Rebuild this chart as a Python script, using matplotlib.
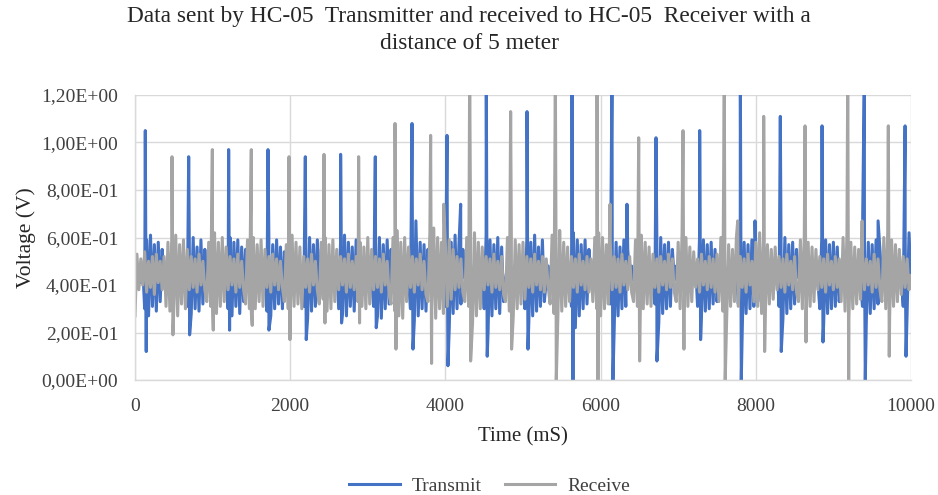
import numpy as np
import matplotlib
matplotlib.use("Agg")
import matplotlib.pyplot as plt

# Data (time in mS, voltage in V)
step_ms = 25
base_time = np.arange(0, 10001, step_ms)

# background noise of the Transmit line, one value every 25 mS (20 values = 500 mS per row)
transmit_base = [
    0.45, 0.42, 0.48, 0.41, 0.47, 0.30, 0.59, 0.27, 0.61, 0.31, 0.57, 0.29, 0.58, 0.33, 0.55, 0.43, 0.48, 0.42, 0.47, 0.41,
    0.49, 0.42, 0.48, 0.41, 0.47, 0.43, 0.48, 0.31, 0.58, 0.28, 0.60, 0.30, 0.56, 0.29, 0.59, 0.32, 0.55, 0.42, 0.48, 0.41,
    0.47, 0.43, 0.49, 0.41, 0.48, 0.42, 0.47, 0.43, 0.30, 0.60, 0.27, 0.58, 0.31, 0.59, 0.28, 0.56, 0.33, 0.55, 0.42, 0.48,
    0.41, 0.47, 0.43, 0.48, 0.42, 0.49, 0.41, 0.47, 0.29, 0.61, 0.27, 0.57, 0.30, 0.59, 0.32, 0.56, 0.30, 0.54, 0.43, 0.48,
    0.42, 0.47, 0.41, 0.49, 0.43, 0.48, 0.42, 0.31, 0.58, 0.26, 0.60, 0.29, 0.57, 0.31, 0.59, 0.33, 0.55, 0.42, 0.48, 0.41,
    0.47, 0.43, 0.48, 0.41, 0.49, 0.30, 0.59, 0.28, 0.61, 0.27, 0.58, 0.31, 0.56, 0.29, 0.59, 0.33, 0.42, 0.48, 0.43, 0.47,
    0.41, 0.48, 0.42, 0.31, 0.58, 0.27, 0.60, 0.26, 0.57, 0.30, 0.59, 0.32, 0.55, 0.43, 0.48, 0.41, 0.47, 0.42, 0.49, 0.43,
    0.47, 0.42, 0.30, 0.62, 0.25, 0.60, 0.27, 0.58, 0.30, 0.57, 0.29, 0.55, 0.42, 0.48, 0.41, 0.47, 0.43, 0.49, 0.42, 0.48,
    0.31, 0.60, 0.22, 0.58, 0.28, 0.61, 0.30, 0.57, 0.32, 0.55, 0.43, 0.48, 0.41, 0.47, 0.42, 0.49, 0.43, 0.48, 0.41, 0.47,
    0.30, 0.61, 0.20, 0.59, 0.27, 0.57, 0.30, 0.60, 0.28, 0.56, 0.33, 0.42, 0.48, 0.41, 0.47, 0.43, 0.49, 0.42, 0.48, 0.43,
    0.47, 0.30, 0.60, 0.24, 0.58, 0.27, 0.61, 0.29, 0.56, 0.31, 0.59, 0.33, 0.42, 0.48, 0.41, 0.47, 0.43, 0.49, 0.42, 0.48,
    0.41, 0.47, 0.43, 0.48, 0.42, 0.31, 0.62, 0.22, 0.59, 0.27, 0.57, 0.30, 0.59, 0.32, 0.55, 0.42, 0.48, 0.41, 0.47, 0.43,
    0.49, 0.42, 0.48, 0.41, 0.47, 0.32, 0.60, 0.21, 0.58, 0.27, 0.56, 0.30, 0.59, 0.31, 0.55, 0.43, 0.48, 0.42, 0.47, 0.41,
    0.48, 0.43, 0.47, 0.41, 0.49, 0.42, 0.48, 0.43, 0.32, 0.59, 0.24, 0.60, 0.28, 0.57, 0.30, 0.58, 0.31, 0.55, 0.42, 0.48,
    0.41, 0.47, 0.43, 0.48, 0.42, 0.49, 0.41, 0.47, 0.43, 0.48, 0.31, 0.60, 0.27, 0.59, 0.29, 0.57, 0.30, 0.58, 0.32, 0.55,
    0.33, 0.43, 0.48, 0.41, 0.47, 0.42, 0.49, 0.43, 0.48, 0.41, 0.47, 0.32, 0.62, 0.20, 0.58, 0.28, 0.57, 0.30, 0.59, 0.31,
    0.56, 0.33, 0.42, 0.48, 0.41, 0.47, 0.43, 0.49, 0.42, 0.48, 0.41, 0.47, 0.31, 0.59, 0.26, 0.60, 0.28, 0.57, 0.30, 0.58,
    0.32, 0.55, 0.43, 0.48, 0.41, 0.47, 0.42, 0.49, 0.43, 0.48, 0.41, 0.47, 0.42, 0.30, 0.60, 0.24, 0.59, 0.28, 0.57, 0.30,
    0.58, 0.31, 0.56, 0.33, 0.43, 0.48, 0.41, 0.47, 0.42, 0.49, 0.43, 0.48, 0.41, 0.47, 0.42, 0.31, 0.60, 0.26, 0.58, 0.28,
    0.57, 0.30, 0.59, 0.32, 0.55, 0.42, 0.48, 0.41, 0.47, 0.43, 0.49, 0.42, 0.48, 0.41, 0.47, 0.43, 0.31, 0.60, 0.28, 0.62,
    0.40,
]

# background noise of the Receive line, one value every 25 mS (20 values = 500 mS per row)
receive_base = [
    0.27, 0.53, 0.38, 0.51, 0.40, 0.54, 0.37, 0.50, 0.39, 0.52, 0.36, 0.53, 0.41, 0.50, 0.38, 0.52, 0.31, 0.58, 0.29, 0.60,
    0.30, 0.61, 0.27, 0.57, 0.32, 0.59, 0.30, 0.55, 0.38, 0.52, 0.39, 0.51, 0.37, 0.53, 0.40, 0.50, 0.38, 0.33, 0.58, 0.31,
    0.29, 0.62, 0.28, 0.58, 0.31, 0.60, 0.33, 0.56, 0.38, 0.52, 0.40, 0.51, 0.37, 0.53, 0.39, 0.50, 0.38, 0.32, 0.59, 0.30,
    0.28, 0.60, 0.30, 0.57, 0.33, 0.59, 0.31, 0.55, 0.39, 0.52, 0.37, 0.53, 0.40, 0.51, 0.38, 0.50, 0.39, 0.33, 0.57, 0.30,
    0.27, 0.61, 0.31, 0.58, 0.32, 0.56, 0.30, 0.52, 0.39, 0.51, 0.37, 0.53, 0.40, 0.50, 0.38, 0.32, 0.58, 0.34, 0.60, 0.29,
    0.57, 0.30, 0.59, 0.33, 0.55, 0.38, 0.52, 0.40, 0.51, 0.37, 0.53, 0.39, 0.50, 0.38, 0.52, 0.33, 0.58, 0.31, 0.56, 0.30,
    0.60, 0.32, 0.55, 0.38, 0.52, 0.39, 0.51, 0.37, 0.53, 0.40, 0.50, 0.36, 0.32, 0.60, 0.29, 0.63, 0.27, 0.58, 0.26, 0.60,
    0.33, 0.56, 0.39, 0.52, 0.37, 0.51, 0.40, 0.53, 0.38, 0.50, 0.36, 0.33, 0.62, 0.30, 0.64, 0.26, 0.60, 0.30, 0.58, 0.28,
    0.57, 0.31, 0.59, 0.34, 0.55, 0.38, 0.52, 0.39, 0.51, 0.37, 0.33, 0.60, 0.31, 0.64, 0.24, 0.62, 0.27, 0.58, 0.30, 0.56,
    0.38, 0.52, 0.40, 0.51, 0.37, 0.53, 0.39, 0.50, 0.38, 0.52, 0.36, 0.33, 0.60, 0.29, 0.62, 0.27, 0.59, 0.30, 0.57, 0.32,
    0.58, 0.34, 0.52, 0.39, 0.51, 0.37, 0.53, 0.40, 0.50, 0.38, 0.52, 0.37, 0.51, 0.39, 0.32, 0.61, 0.28, 0.63, 0.27, 0.60,
    0.29, 0.58, 0.31, 0.56, 0.33, 0.52, 0.39, 0.51, 0.37, 0.53, 0.40, 0.50, 0.38, 0.52, 0.37, 0.51, 0.33, 0.60, 0.30, 0.62,
    0.27, 0.60, 0.30, 0.57, 0.32, 0.58, 0.38, 0.52, 0.39, 0.51, 0.37, 0.53, 0.40, 0.50, 0.38, 0.52, 0.37, 0.33, 0.59, 0.31,
    0.28, 0.61, 0.30, 0.58, 0.32, 0.56, 0.31, 0.53, 0.39, 0.51, 0.37, 0.52, 0.40, 0.50, 0.38, 0.53, 0.39, 0.51, 0.37, 0.33,
    0.58, 0.30, 0.62, 0.28, 0.60, 0.31, 0.56, 0.33, 0.54, 0.39, 0.51, 0.37, 0.53, 0.40, 0.50, 0.38, 0.52, 0.39, 0.51, 0.37,
    0.53, 0.33, 0.60, 0.29, 0.58, 0.26, 0.57, 0.31, 0.55, 0.33, 0.60, 0.31, 0.52, 0.39, 0.51, 0.37, 0.53, 0.40, 0.50, 0.33,
    0.58, 0.31, 0.62, 0.28, 0.59, 0.30, 0.57, 0.32, 0.55, 0.34, 0.56, 0.38, 0.52, 0.39, 0.51, 0.37, 0.53, 0.40, 0.50, 0.38,
    0.52, 0.37, 0.33, 0.59, 0.30, 0.61, 0.28, 0.58, 0.31, 0.56, 0.33, 0.55, 0.38, 0.52, 0.39, 0.51, 0.37, 0.53, 0.40, 0.50,
    0.38, 0.52, 0.39, 0.51, 0.33, 0.60, 0.29, 0.62, 0.26, 0.58, 0.30, 0.56, 0.32, 0.55, 0.34, 0.53, 0.38, 0.51, 0.40, 0.50,
    0.37, 0.53, 0.39, 0.51, 0.38, 0.33, 0.60, 0.30, 0.62, 0.27, 0.59, 0.31, 0.57, 0.33, 0.55, 0.36, 0.52, 0.39, 0.51, 0.38,
    0.44,
]

# main pulses: time, peak, dip right after the peak
transmit_spike_t = [133, 692, 1207, 1714, 2195, 2650, 3097, 3570, 4021, 4527,
                    5052, 5632, 6147, 6714, 7277, 7801, 8316, 8854, 9399, 9924]
transmit_spike_hi = [1.05, 0.94, 0.97, 0.97, 0.94, 0.95, 0.94, 1.08, 1.03, 1.30,
                     1.13, 1.30, 1.30, 1.02, 1.05, 1.30, 1.11, 1.07, 1.30, 1.07]
transmit_spike_lo = [0.12, 0.19, 0.21, 0.21, 0.17, 0.24, 0.22, 0.13, 0.06, 0.10,
                     0.13, 0.00, 0.00, 0.08, 0.17, 0.00, 0.12, 0.16, 0.00, 0.10]

receive_spike_t = [477, 997, 1499, 1985, 2436, 2882, 3351, 3810, 4313, 4841,
                   5417, 5954, 6491, 7062, 7594, 8102, 8635, 9185, 9708]
receive_spike_hi = [0.94, 0.97, 0.97, 0.94, 0.95, 0.94, 1.08, 1.03, 1.30, 1.13,
                    1.30, 1.30, 1.02, 1.05, 1.30, 1.11, 1.07, 1.30, 1.07]
receive_spike_lo = [0.19, 0.21, 0.23, 0.17, 0.24, 0.24, 0.13, 0.07, 0.08, 0.13,
                    0.00, 0.00, 0.08, 0.13, 0.00, 0.12, 0.16, 0.00, 0.10]

# smaller side pulses
transmit_small_t = [3620, 4197, 5800, 6340, 7990, 9378, 9576]
transmit_small_v = [0.67, 0.74, 0.59, 0.74, 0.67, 0.70, 0.67]
receive_small_t = [3978, 5473, 6122, 7767, 9370]
receive_small_v = [0.74, 0.63, 0.74, 0.67, 0.67]

y_ticks = [0.0, 0.2, 0.4, 0.6, 0.8, 1.0, 1.2]
y_tick_labels = ['0,00E+00', '2,00E-01', '4,00E-01', '6,00E-01',
                 '8,00E-01', '1,00E+00', '1,20E+00']
x_ticks = [0, 2000, 4000, 6000, 8000, 10000]

dip_delay = 12


def build_series(base, spike_t, spike_hi, spike_lo, small_t, small_v):
    # put the background samples and the pulse samples into one time-ordered line
    assert len(base) == len(base_time)
    t = np.concatenate([base_time, spike_t, np.array(spike_t) + dip_delay, small_t])
    v = np.concatenate([base, spike_hi, spike_lo, small_v])
    order = np.argsort(t, kind='stable')
    return t[order], v[order]


tx_t, tx_v = build_series(transmit_base, transmit_spike_t, transmit_spike_hi,
                          transmit_spike_lo, transmit_small_t, transmit_small_v)
rx_t, rx_v = build_series(receive_base, receive_spike_t, receive_spike_hi,
                          receive_spike_lo, receive_small_t, receive_small_v)

plt.rcParams['font.family'] = ['Liberation Serif', 'DejaVu Serif']

fig = plt.figure(figsize=(9.38, 4.95), dpi=100)
ax = fig.add_axes([0.1439, 0.2323, 0.9712 - 0.1439, 0.8081 - 0.2323])

ax.plot(tx_t, tx_v, color='#4472C4', linewidth=2.2, label='Transmit')
ax.plot(rx_t, rx_v, color='#A5A5A5', linewidth=2.2, label='Receive')

ax.set_xlim(0, 10000)
ax.set_ylim(0, 1.2)
ax.set_xticks(x_ticks)
ax.set_xticklabels([str(x) for x in x_ticks])
ax.set_yticks(y_ticks)
ax.set_yticklabels(y_tick_labels)
ax.tick_params(axis='y', length=0, labelsize=14, colors='#404040', pad=12)
ax.tick_params(axis='x', length=0, labelsize=14, colors='#404040', pad=13)

ax.grid(True, color='#D9D9D9', linewidth=1.0)
ax.set_axisbelow(True)
for side in ['top', 'right']:
    ax.spines[side].set_visible(False)
ax.spines['left'].set_color('#D9D9D9')
ax.spines['bottom'].set_color('#D9D9D9')
ax.spines['left'].set_linewidth(1.0)
ax.spines['bottom'].set_linewidth(1.0)

ax.set_xlabel('Time (mS)', fontsize=15, color='#262626', labelpad=9)
ax.set_ylabel('Voltage (V)', fontsize=15.5, color='#262626', labelpad=4)

fig.text(0.5, 0.987, 'Data sent by HC-05  Transmitter and received to HC-05  Receiver with a\ndistance of 5 meter',
         ha='center', va='top', fontsize=16.8, color='#262626', linespacing=1.35)

fig.legend(loc='lower center', bbox_to_anchor=(0.522, -0.035), ncol=2, frameon=False,
           fontsize=14, handlelength=2.6, columnspacing=1.2, handletextpad=0.6,
           labelcolor='#404040')

fig.savefig('out.png', dpi=100)
